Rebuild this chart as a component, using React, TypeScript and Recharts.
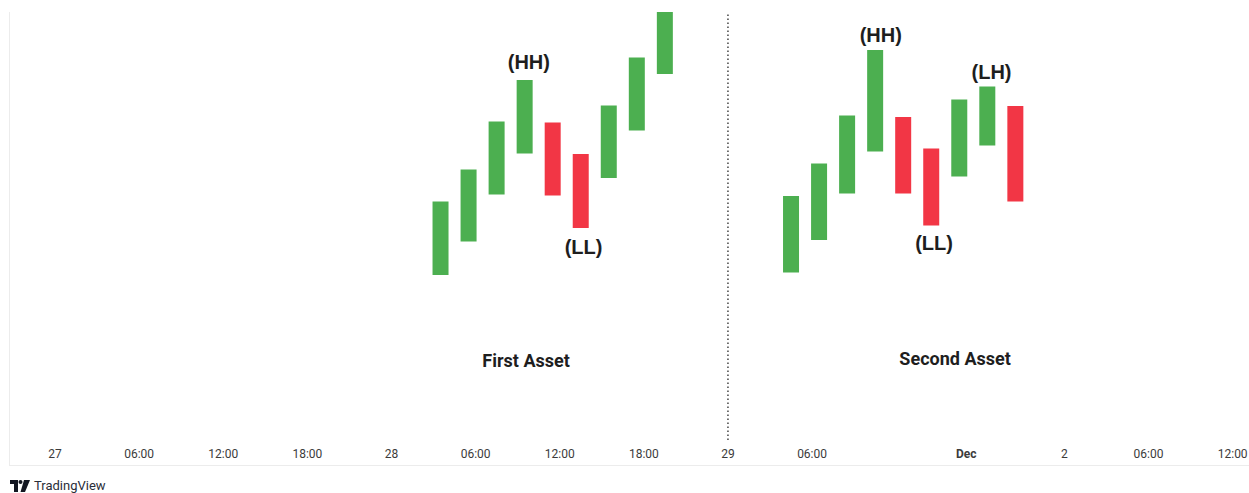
import React from 'react';
import { ComposedChart, Bar, Cell, XAxis, YAxis, ReferenceLine, ReferenceDot } from 'recharts';

// Hours counted from 27 00:00 (2-hour candles)
const firstTimes = [27.5, 29.5, 31.5, 33.5, 35.5, 37.5, 39.5, 41.5, 43.5];
const firstOpen = [95.5, 112.3, 135.8, 156.3, 171.7, 156.0, 144.0, 167.7, 196.0];
const firstClose = [132.2, 148.3, 172.2, 193.0, 135.2, 119.0, 180.3, 204.3, 227.0];

const secondTimes = [52.5, 54.5, 56.5, 58.5, 60.5, 62.5, 64.5, 66.5, 68.5];
const secondOpen = [96.7, 113.0, 136.3, 157.2, 174.5, 158.7, 144.7, 160.3, 180.0];
const secondClose = [135.0, 151.3, 175.3, 208.0, 136.2, 120.2, 183.2, 189.7, 132.3];

const tickValues = [0, 6, 12, 18, 24, 30, 36, 42, 48, 54, 65, 72, 78, 84];
const tickLabels = ['27', '06:00', '12:00', '18:00', '28', '06:00', '12:00', '18:00', '29', '06:00', 'Dec', '2', '06:00', '12:00'];

const swingLabels = ['(HH)', '(LL)', '(HH)', '(LL)', '(LH)'];
const swingX = [33.8, 37.7, 58.9, 62.7, 66.8];
const swingY = [202.0, 109.8, 215.5, 111.5, 197.2];

const assetTitles = ['First Asset', 'Second Asset'];
const assetTitleX = [33.6, 64.2];
const assetTitleY = [52.5, 53.8];

const separatorTime = 48;

const UP = '#4CAF50';
const DOWN = '#F23645';

const candles = [
  ...firstTimes.map((t, i) => ({ t, open: firstOpen[i], close: firstClose[i] })),
  ...secondTimes.map((t, i) => ({ t, open: secondOpen[i], close: secondClose[i] })),
].map((d) => ({ ...d, body: [Math.min(d.open, d.close), Math.max(d.open, d.close)] }));

const XTick = (props: any) => {
  const { x, y, payload } = props;
  const idx = tickValues.indexOf(payload.value);
  const label = idx >= 0 ? tickLabels[idx] : '';
  return (
    <text
      x={x}
      y={y}
      dy={10}
      textAnchor="middle"
      fontFamily="Roboto, 'Liberation Sans', sans-serif"
      fontSize={12}
      fontWeight={label === 'Dec' ? 700 : 400}
      fill="#3b3b3b"
    >
      {label}
    </text>
  );
};

export default function App() {
  return (
    <div style={{ position: 'absolute', left: 0, top: 0, width: 1249, height: 493, background: '#fff', overflow: 'hidden' }}>
      <div
        style={{
          position: 'absolute',
          left: 9,
          top: 12,
          width: 1240,
          height: 454,
          borderLeft: '1px solid #ececec',
          borderBottom: '1px solid #ececec',
          boxSizing: 'border-box',
        }}
      />
      <div style={{ position: 'absolute', left: 0, top: 0 }}>
        <ComposedChart width={1249} height={466} data={candles} margin={{ top: 12, right: 0, left: 0, bottom: 0 }}>
          <XAxis
            dataKey="t"
            type="number"
            domain={[-3.923, 85.164]}
            allowDataOverflow
            ticks={tickValues}
            interval={0}
            axisLine={false}
            tickLine={false}
            height={26}
            tick={<XTick />}
          />
          <YAxis hide type="number" domain={[13, 227]} allowDataOverflow />
          <ReferenceLine x={separatorTime} stroke="#444" strokeWidth={1.5} strokeDasharray="1.5 2.5" />
          <Bar dataKey="body" barSize={16} isAnimationActive={false}>
            {candles.map((d, i) => (
              <Cell key={i} fill={d.close >= d.open ? UP : DOWN} />
            ))}
          </Bar>
          {swingLabels.map((s, i) => (
            <ReferenceDot
              key={'s' + i}
              x={swingX[i]}
              y={swingY[i]}
              r={0}
              fill="none"
              stroke="none"
              label={{
                value: s,
                position: 'center',
                fontFamily: "'Liberation Sans', Arial, sans-serif",
                fontSize: 20,
                fontWeight: 700,
                fill: '#1e1e1e',
              }}
            />
          ))}
          {assetTitles.map((s, i) => (
            <ReferenceDot
              key={'a' + i}
              x={assetTitleX[i]}
              y={assetTitleY[i]}
              r={0}
              fill="none"
              stroke="none"
              label={{
                value: s,
                position: 'center',
                fontFamily: 'Roboto, sans-serif',
                fontSize: 18,
                fontWeight: 700,
                fill: '#1e1e1e',
              }}
            />
          ))}
        </ComposedChart>
      </div>
      <div style={{ position: 'absolute', left: 10, top: 478, display: 'flex', alignItems: 'center', gap: 4 }}>
        <svg width={20} height={12} viewBox="0 0 20 12">
          <path d="M0 0 H8 V12 H4 V4 H0 Z" fill="#131722" />
          <circle cx={10.5} cy={2} r={2} fill="#131722" />
          <path d="M14 0 H20 L15 12 H10.5 Z" fill="#131722" />
        </svg>
        <span style={{ fontFamily: "Roboto, 'Open Sans', sans-serif", fontSize: 13, color: '#2a2e39' }}>TradingView</span>
      </div>
    </div>
  );
}
